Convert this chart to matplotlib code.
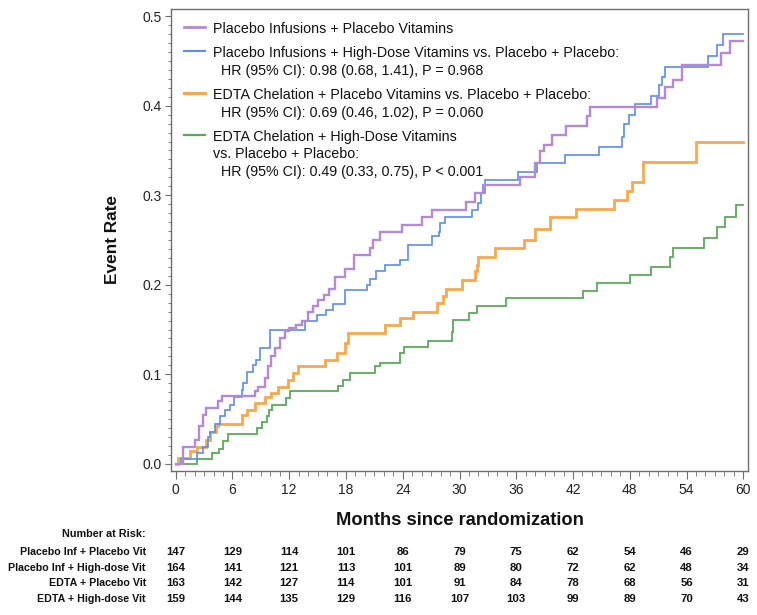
import matplotlib
matplotlib.use('Agg')
import matplotlib.pyplot as plt
import matplotlib.transforms as mtransforms
from matplotlib.ticker import MultipleLocator, FormatStrFormatter
from matplotlib.lines import Line2D

plt.rcParams['font.family'] = ['Liberation Sans', 'DejaVu Sans']

# ---------------- data ----------------
# Placebo Infusions + Placebo Vitamins
pp_t = [0, 0.8, 2.0, 2.5, 2.9, 3.2, 4.5, 4.9, 8.4, 8.7, 9.4, 9.8, 10.1, 10.5, 11.0, 11.5,
        12.0, 12.7, 13.4, 14.0, 14.5, 15.0, 15.7, 16.2, 16.8, 17.9, 18.8, 20.5, 20.9, 21.6,
        23.9, 26.0, 27.1, 30.7, 31.6, 32.5, 36.4, 38.0, 38.5, 38.9, 39.8, 41.3, 43.5, 43.8,
        50.9, 51.7, 52.6, 53.5, 57.6, 58.6]
pp_y = [0, 0.019, 0.027, 0.042, 0.055, 0.062, 0.07, 0.076, 0.081, 0.086, 0.096, 0.109, 0.12,
        0.129, 0.14, 0.148, 0.152, 0.155, 0.159, 0.17, 0.176, 0.183, 0.189, 0.195, 0.209, 0.218,
        0.233, 0.241, 0.25, 0.259, 0.267, 0.276, 0.284, 0.293, 0.302, 0.311, 0.32, 0.336, 0.349,
        0.356, 0.367, 0.377, 0.388, 0.398, 0.409, 0.421, 0.429, 0.445, 0.459, 0.472]

# Placebo Infusions + High-Dose Vitamins
ph_t = [0, 0.6, 2.2, 2.9, 3.4, 3.6, 4.1, 4.7, 5.2, 5.7, 6.2, 7.0, 7.1, 7.5, 8.2, 8.5, 8.9,
        10.0, 13.7, 14.9, 15.9, 16.6, 17.9, 20.2, 20.5, 21.2, 22.1, 23.7, 24.6, 27.1, 27.8,
        27.9, 28.5, 31.3, 32.0, 32.3, 32.7, 36.2, 38.2, 41.2, 44.7, 47.2, 47.4, 47.9, 48.6,
        50.2, 51.1, 51.4, 51.7, 56.3, 57.2, 57.9]
ph_y = [0, 0.005, 0.012, 0.019, 0.03, 0.036, 0.045, 0.053, 0.06, 0.066, 0.075, 0.083, 0.09,
        0.103, 0.11, 0.116, 0.129, 0.15, 0.159, 0.166, 0.172, 0.179, 0.194, 0.2, 0.207, 0.215,
        0.222, 0.228, 0.244, 0.254, 0.259, 0.269, 0.276, 0.283, 0.291, 0.302, 0.317, 0.326,
        0.336, 0.345, 0.354, 0.365, 0.38, 0.39, 0.402, 0.411, 0.423, 0.432, 0.443, 0.456,
        0.468, 0.48]

# EDTA Chelation + Placebo Vitamins
ep_t = [0, 0.2, 1.5, 2.2, 3.2, 3.6, 4.3, 4.5, 7.0, 7.5, 8.4, 9.4, 10.1, 10.8, 11.9, 12.4,
        12.9, 15.8, 17.0, 17.9, 18.2, 22.1, 23.7, 25.1, 27.6, 28.3, 28.6, 30.3, 31.6, 31.8,
        32.0, 33.8, 36.8, 38.0, 39.6, 42.3, 46.3, 47.7, 48.2, 49.4, 55.0]
ep_y = [0, 0.006, 0.014, 0.019, 0.027, 0.036, 0.042, 0.045, 0.055, 0.06, 0.068, 0.075, 0.079,
        0.086, 0.094, 0.101, 0.109, 0.116, 0.124, 0.135, 0.146, 0.155, 0.163, 0.17, 0.18,
        0.188, 0.195, 0.205, 0.215, 0.222, 0.231, 0.241, 0.25, 0.262, 0.276, 0.285, 0.295,
        0.305, 0.315, 0.337, 0.36]

# EDTA Chelation + High-Dose Vitamins
eh_t = [0, 2.2, 3.8, 4.6, 5.0, 5.5, 8.6, 9.1, 9.6, 9.9, 10.2, 11.7, 12.1, 17.2, 17.7, 18.4,
        21.1, 21.6, 23.7, 24.1, 26.7, 29.2, 29.3, 31.0, 31.8, 34.9, 43.1, 44.5, 48.0, 50.2,
        52.3, 52.6, 55.8, 57.2, 58.1, 59.2]
eh_y = [0, 0.005, 0.012, 0.017, 0.025, 0.033, 0.04, 0.047, 0.053, 0.06, 0.066, 0.073, 0.081,
        0.087, 0.094, 0.101, 0.109, 0.113, 0.124, 0.131, 0.137, 0.147, 0.161, 0.168, 0.176,
        0.185, 0.193, 0.202, 0.211, 0.22, 0.231, 0.241, 0.252, 0.265, 0.276, 0.289]

end_month = 60

legend_labels = [
    "Placebo Infusions + Placebo Vitamins",
    "Placebo Infusions + High-Dose Vitamins vs. Placebo + Placebo:\n  HR (95% CI): 0.98 (0.68, 1.41), P = 0.968",
    "EDTA Chelation + Placebo Vitamins vs. Placebo + Placebo:\n  HR (95% CI): 0.69 (0.46, 1.02), P = 0.060",
    "EDTA Chelation + High-Dose Vitamins\nvs. Placebo + Placebo:\n  HR (95% CI): 0.49 (0.33, 0.75), P < 0.001",
]

risk_months = [0, 6, 12, 18, 24, 30, 36, 42, 48, 54, 60]
risk_labels = ["Placebo Inf + Placebo Vit", "Placebo Inf + High-dose Vit",
               "EDTA + Placebo Vit", "EDTA + High-dose Vit"]
risk_pp = [147, 129, 114, 101, 86, 79, 75, 62, 54, 46, 29]
risk_ph = [164, 141, 121, 113, 101, 89, 80, 72, 62, 48, 34]
risk_ep = [163, 142, 127, 114, 101, 91, 84, 78, 68, 56, 31]
risk_eh = [159, 144, 135, 129, 116, 107, 103, 99, 89, 70, 43]

# ---------------- styling ----------------
colors = ['#B48AD6', '#5B8EE6', '#F6A84E', '#5BAA5B']
widths = [1.7, 1.2, 2.0, 1.3]

W, H = 757, 615
fig = plt.figure(figsize=(W / 100, H / 100), dpi=100)
ax = fig.add_axes([171 / W, 1 - 471 / H, 577 / W, 462 / H])

series = [(pp_t, pp_y), (ph_t, ph_y), (ep_t, ep_y), (eh_t, eh_y)]
handles = []
for i in [3, 2, 1, 0]:
    t, y = series[i]
    ax.step(list(t) + [end_month], list(y) + [y[-1]], where='post',
            color=colors[i], lw=widths[i], solid_joinstyle='miter', zorder=3 + (3 - i))
for i in range(4):
    handles.append(Line2D([], [], color=colors[i], lw=widths[i] + 0.3))

ax.set_xlim(-0.5, 60.5)
ax.set_ylim(-0.008, 0.508)
ax.xaxis.set_major_locator(MultipleLocator(6))
ax.xaxis.set_minor_locator(MultipleLocator(1))
ax.yaxis.set_major_locator(MultipleLocator(0.1))
ax.yaxis.set_minor_locator(MultipleLocator(0.01))
ax.yaxis.set_major_formatter(FormatStrFormatter('%.1f'))

spine_c = '#6E6E6E'
for s in ax.spines.values():
    s.set_color(spine_c)
    s.set_linewidth(1.0)
ax.tick_params(axis='both', which='both', direction='out', colors=spine_c,
               labelcolor='#222222', labelsize=10)
ax.tick_params(axis='x', which='major', length=6, pad=3)
ax.tick_params(axis='x', which='minor', length=3.5)
ax.tick_params(axis='y', which='major', length=4.5, pad=2)
ax.tick_params(axis='y', which='minor', length=2.5)

ax.set_ylabel('Event Rate', fontsize=12.4, fontweight='bold', labelpad=16, color='#111111')
ax.set_xlabel('Months since randomization', fontsize=13.2, fontweight='bold', labelpad=10.5,
              color='#111111')

leg = ax.legend(handles, legend_labels, loc='upper left', frameon=False, fontsize=10.3,
                handlelength=1.45, handletextpad=0.6, labelspacing=0.72,
                borderaxespad=0.55, borderpad=0.35)
for col in leg._legend_handle_box.get_children():
    for entry in col.get_children():
        entry.align = 'top'
for txt in leg.get_texts():
    txt.set_color('#111111')
    txt.set_linespacing(1.32)

# ---------------- number at risk table ----------------
trans = mtransforms.blended_transform_factory(ax.transData, fig.transFigure)
label_x = 146 / W
fig.text(label_x, 1 - 534 / H, 'Number at Risk:', ha='right', va='center',
         fontsize=7.8, fontweight='bold', color='#111111')
row_y = [552, 568, 583, 599]
for lab, counts, yy in zip(risk_labels, [risk_pp, risk_ph, risk_ep, risk_eh], row_y):
    fig.text(label_x, 1 - yy / H, lab, ha='right', va='center', fontsize=7.7,
             fontweight='bold', color='#111111')
    for m, n in zip(risk_months, counts):
        ax.text(m, 1 - yy / H, str(n), transform=trans, ha='center', va='center',
                fontsize=8.2, color='#111111', fontweight='bold')

fig.savefig('out.png', dpi=100)
